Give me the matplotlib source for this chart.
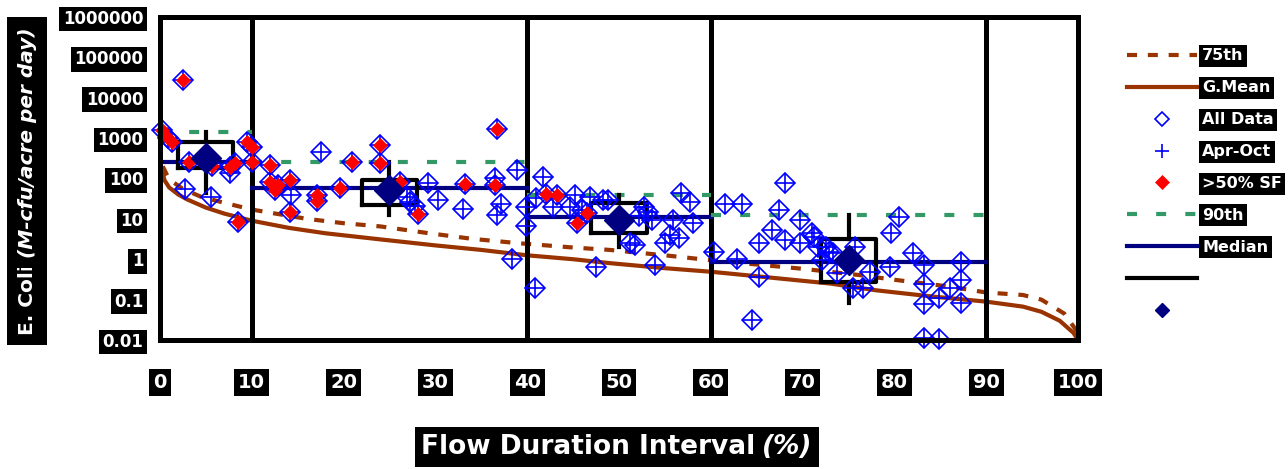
import matplotlib
matplotlib.use('Agg')
import matplotlib.pyplot as plt

plt.rcParams['font.family'] = 'DejaVu Sans'
plt.rcParams['font.weight'] = 'bold'

# load duration curves
gmean_x = [0, 0.5, 1, 2, 3, 5, 7, 10, 14, 18, 24, 30, 35, 40, 45, 49, 55, 60, 66,
           73, 78, 84, 90, 94, 96, 98, 99.5, 100]
gmean_vals = [250, 90, 60, 40, 30, 19, 13.5, 9, 6, 4.4, 3.1, 2.2, 1.7, 1.25, 1.0, 0.8,
              0.6, 0.49, 0.36, 0.25, 0.17, 0.12, 0.089, 0.067, 0.05, 0.03, 0.015, 0.01]
p75_x = [0.3, 1, 2.5, 4.5, 7, 10, 13, 16, 20, 24, 29, 34, 39, 45, 49, 55, 59, 65, 70,
         76, 80, 86, 90, 94, 96, 98.5, 100]
p75_vals = [200, 95, 55, 35, 25, 17, 13, 10, 7.8, 6.5, 4.5, 3.2, 2.5, 1.95, 1.7, 1.25,
            1.0, 0.74, 0.58, 0.41, 0.31, 0.21, 0.15, 0.13, 0.10, 0.045, 0.015]

# observed loads, >50% SF (red) and the rest
sf_x = [0.2, 0.9, 1.3, 2.5, 3.2, 5.7, 7.6, 8.2, 9.5, 10.0, 10.0, 8.5, 12.0, 12.0, 12.5,
        12.9, 14.2, 14.2, 17.1, 17.1, 19.6, 20.9, 24.0, 24.0, 26.1, 28.1, 33.2, 36.5,
        36.7, 42.1, 43.2, 45.4, 46.5]
sf_vals = [1600, 1000, 800, 27500, 257, 200, 195, 240, 810, 610, 257, 8.5, 214, 83, 52,
           68, 92, 15, 39, 27, 57, 257, 670, 235, 83, 13, 75, 69, 1700, 41, 39, 7.8, 13.8]
oth_x = [2.7, 5.6, 7.6, 14.3, 17.5, 26.9, 27.2, 27.8, 29.2, 30.3, 33.0, 36.5, 37.2, 36.7,
         38.9, 38.3, 39.9, 39.9, 40.85, 41.75, 41.0, 42.8, 44.7, 45.2, 46.0, 46.8, 47.5,
         48.3, 48.8, 51.2, 51.7, 52.7, 53.2, 53.6, 52.2, 53.9, 55.0, 55.5, 56.5, 55.9,
         56.8, 57.7, 58.1, 60.3, 61.5, 63.4, 62.9, 64.5, 65.2, 65.2, 66.7, 67.4, 68.1,
         68.1, 69.7, 69.7, 71.0, 71.2, 71.7, 72.1, 72.5, 72.9, 73.3, 73.7, 75.5, 75.7,
         76.6, 77.3, 79.5, 79.6, 80.5, 82.0, 83.2, 83.2, 83.2, 83.2, 84.8, 84.8, 86.1,
         87.3, 87.3, 87.3]
oth_vals = [54, 35, 140, 39, 450, 35, 26, 21, 76, 29.6, 18, 100, 24, 12.3,
            162, 1.0, 20, 6.6, 0.19, 110, 32, 20, 20, 39, 17, 35, 0.65,
            30, 30, 2.5, 2.2, 20, 15, 9.3, 12, 0.72, 2.5, 4.0, 3.3, 9.3,
            43, 26, 8.0, 1.55, 24, 24, 1.0, 0.032, 0.37, 2.5, 5.3, 16.6, 78,
            3.0, 9.3, 2.5, 4.4, 3.6, 2.0, 0.95, 2.0, 1.55, 1.4, 0.45, 0.19, 2.0,
            0.19, 0.49, 0.65, 4.4, 11.2, 1.4, 0.72, 0.25, 0.078, 0.011, 0.0104, 0.107, 0.19,
            0.87, 0.31, 0.081]

# flow zone statistics
zone_edges = [10, 40, 60, 90]
zone_lo = [0, 10, 40, 60]
zone_hi = [10, 40, 60, 90]
zone_mid = [5, 25, 50, 75]
zone_median = [257, 57, 11, 0.85]
zone_p90 = [1440, 260, 38, 12.3]
box_q1 = [178, 22, 4.4, 0.27]
box_q3 = [810, 90, 25, 3.1]
whisk_lo = [43, 12.3, 2.0, 0.081]
whisk_hi = [1450, 257, 39, 12.3]
zone_marker = [316, 53, 9.3, 0.95]

yticks = [0.01, 0.1, 1, 10, 100, 1000, 10000, 100000, 1000000]
ytick_labels = ['0.01', '0.1', '1', '10', '100', '1000', '10000', '100000', '1000000']
xticks = [0, 10, 20, 30, 40, 50, 60, 70, 80, 90, 100]

BROWN = '#993300'
GREEN = '#339966'
NAVY = '#000080'

fig = plt.figure(figsize=(12.88, 4.69), dpi=100)
ax = fig.add_axes([0.1242, 0.2751, 0.7128, 0.6887])
ax.set_yscale('log')
ax.set_xlim(0, 100)
ax.set_ylim(0.01, 1000000)

h75, = ax.plot(p75_x, p75_vals, color=BROWN, lw=3, dashes=(2.4, 2.6), label='75th')
hgm, = ax.plot(gmean_x, gmean_vals, color=BROWN, lw=3, label='G.Mean')

for e in zone_edges:
    ax.axvline(e, color='black', lw=3.6, zorder=2)

h90 = None
hmed = None
for lo, hi, m, p in zip(zone_lo, zone_hi, zone_median, zone_p90):
    l90, = ax.plot([lo, hi], [p, p], color=GREEN, lw=3, dashes=(2.4, 4.6), zorder=3)
    lmed, = ax.plot([lo, hi], [m, m], color=NAVY, lw=3, zorder=3)
    h90 = h90 or l90
    hmed = hmed or lmed

stats = []
for m, q1, q3, lo, hi in zip(zone_marker, box_q1, box_q3, whisk_lo, whisk_hi):
    stats.append(dict(med=m, q1=q1, q3=q3, whislo=lo, whishi=hi, fliers=[]))
bp = ax.bxp(stats, positions=zone_mid, widths=6, showcaps=False, showfliers=False,
            manage_ticks=False, patch_artist=False,
            boxprops=dict(color='black', lw=3),
            whiskerprops=dict(color='black', lw=3),
            medianprops=dict(lw=0), zorder=4)

all_x = sf_x + oth_x
all_vals = sf_vals + oth_vals
hall, = ax.plot(all_x, all_vals, ls='none', marker='D', ms=10.5, mfc='none', mec='#0000FF',
                mew=1.2, clip_on=False, zorder=5)
hapr, = ax.plot(all_x, all_vals, ls='none', marker='+', ms=14, color='#0000FF',
                mew=1.2, clip_on=False, zorder=5)
hsf, = ax.plot(sf_x, sf_vals, ls='none', marker='D', ms=6.8, mfc='#FF0000', mec='#FF0000',
               mew=0.5, clip_on=False, zorder=6)
hgd, = ax.plot(zone_mid, zone_marker, ls='none', marker='D', ms=15, color=NAVY, zorder=7)

for s in ax.spines.values():
    s.set_linewidth(3.6)
    s.set_zorder(8)

ax.set_yticks(yticks)
ax.set_yticklabels(ytick_labels)
ax.minorticks_off()
ax.set_xticks(xticks)
ax.tick_params(axis='y', length=0, pad=12, labelsize=12, labelcolor='white')
ax.tick_params(axis='x', length=0, pad=24, labelsize=14, labelcolor='white')
for t in ax.get_yticklabels() + ax.get_xticklabels():
    t.set_fontweight('bold')
    t.set_bbox(dict(boxstyle='square,pad=0.2', fc='black', ec='none'))

handles = [h75, hgm, hall, hapr, hsf, h90, hmed, bp['boxes'][0], hgd]
labels = ['75th', 'G.Mean', 'All Data', 'Apr-Oct', '>50% SF', '90th', 'Median', '', '']
leg = ax.legend(handles, labels, loc='upper left', bbox_to_anchor=(0.875, 0.897),
                bbox_transform=fig.transFigure, frameon=False, fontsize=11.5,
                handlelength=4.4, handletextpad=0.3, labelspacing=1.06,
                borderpad=0, borderaxespad=0)
for t in leg.get_texts():
    t.set_color('white')
    t.set_fontweight('bold')
    if t.get_text().strip():
        t.set_bbox(dict(boxstyle='square,pad=0.22', fc='black', ec='none'))
lh = leg.legend_handles
lh[2].set_markersize(7)
lh[3].set_markersize(10)
lh[4].set_markersize(7)
lh[8].set_markersize(7)

# axis titles with italic units
ybox = dict(boxstyle='square,pad=0.5', fc='black', ec='none')
xbox = dict(boxstyle='square,pad=0.25', fc='black', ec='none')
fig.canvas.draw()
yt1 = fig.text(0.021, 0.286, 'E. Coli', rotation=90, ha='center', va='bottom',
               color='white', fontsize=14.5, fontweight='bold', bbox=ybox)
xt1 = fig.text(0.327, 0.047, 'Flow Duration Interval', ha='left', va='center',
               color='white', fontsize=19, fontweight='bold', bbox=xbox)
fig.canvas.draw()
bb = yt1.get_window_extent()
fig.text(0.021, (bb.y1 + 6) / fig.bbox.height, '(M-cfu/acre per day)', rotation=90,
         ha='center', va='bottom', color='white', fontsize=14.5, fontweight='bold',
         style='italic', bbox=ybox)
bb = xt1.get_window_extent()
fig.text((bb.x1 + 7) / fig.bbox.width, 0.047, '(%)', ha='left', va='center',
         color='white', fontsize=19, fontweight='bold', style='italic', bbox=xbox)

fig.savefig('out.png', dpi=100)
